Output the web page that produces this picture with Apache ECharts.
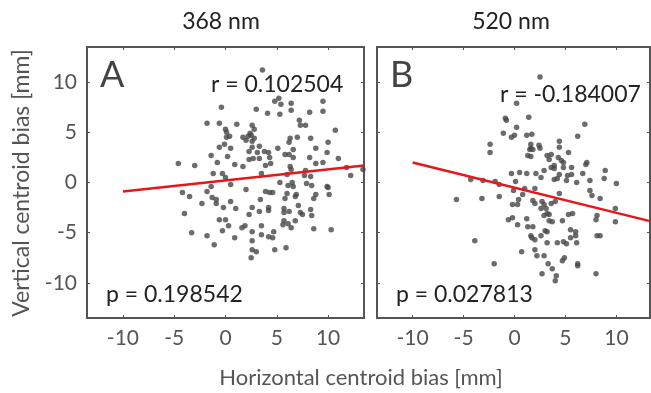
<!DOCTYPE html>
<html>
<head>
<meta charset="utf-8">
<script src="https://cdn.jsdelivr.net/npm/echarts@6/dist/echarts.min.js"></script>
<style>html,body{margin:0;padding:0;background:#fff}#c{width:651px;height:393px}</style>
</head>
<body>
<div id="c"></div>
<script>
const panelTitles = ['368 nm', '520 nm'];
const panelLetters = ['A', 'B'];
const rTexts = ['r = 0.102504', 'r = -0.184007'];
const pTexts = ['p = 0.198542', 'p = 0.027813'];
const tickValues = [-10, -5, 0, 5, 10];
const xTitle = 'Horizontal centroid bias [mm]';
const yTitle = 'Vertical centroid bias [mm]';

const pointsA = [
 [3.6,11.2],[4.8,8.1],[5.2,8.4],[5.4,7.8],[6.4,7.9],[9.5,8.1],
 [-0.4,7.5],[3.0,7.3],[4.1,6.9],[5.3,6.8],[6.4,7.2],[8.2,7.0],[9.5,7.1],
 [-1.8,5.9],[-0.6,5.9],[1.1,5.8],[2.6,5.7],[7.2,6.2],[7.3,5.7],[7.8,5.7],
 [0.0,5.3],[0.1,5.0],[2.8,5.3],[2.4,4.9],[10.7,5.2],
 [0.1,4.5],[0.4,4.6],[1.7,4.5],[2.2,4.6],[2.5,4.7],[2.8,4.4],[6.3,4.4],[7.0,4.5],[8.3,4.4],
 [2.0,4.2],[2.6,4.1],[6.2,4.0],[10.0,4.0],
 [-0.1,3.8],[-0.6,3.5],[0.5,3.4],[2.6,3.5],[3.3,3.6],[3.8,3.1],[5.1,3.4],[6.6,3.3],[8.8,3.4],
 [2.3,3.1],[3.1,3.0],[4.2,3.0],[6.2,2.8],[9.9,3.0],
 [-1.4,2.7],[0.2,2.6],[2.3,2.3],[2.7,2.4],[3.3,2.4],[4.3,2.5],[5.8,2.8],[6.6,2.5],[8.2,2.5],[11.0,2.4],
 [-4.6,1.9],[-3.0,1.7],[-0.8,2.0],[0.9,1.8],[1.7,1.6],[3.9,1.7],[4.4,1.9],[6.3,1.6],[8.8,1.9],[9.5,2.0],
 [6.4,1.3],[7.8,1.2],[11.8,1.5],[12.2,0.7],[13.4,1.3],
 [-1.2,0.9],[-0.3,0.9],[0.0,0.5],[3.5,0.9],[6.0,0.8],[8.3,0.6],[7.7,0.7],
 [0.5,-0.2],[-1.4,-0.4],[5.3,0.0],[6.5,0.0],[6.1,-0.3],[6.6,-0.4],[7.9,-0.1],[8.4,-0.3],[9.9,-0.4],[10.0,-0.5],
 [-4.2,-1.0],[-1.8,-0.9],[2.0,-0.7],[3.9,-0.9],[4.3,-1.0],[4.6,-1.0],[6.0,-1.1],[6.9,-1.2],[6.8,-1.4],[8.8,-1.2],[10.1,-1.2],
 [-3.5,-1.4],[-1.3,-1.5],[-0.9,-1.7],[3.4,-1.7],[0.5,-1.9],[5.8,-1.6],[8.6,-1.6],
 [-2.3,-2.1],[-0.9,-2.1],[-0.2,-2.5],[7.1,-2.3],
 [-4.0,-3.1],[1.0,-2.6],[2.6,-2.5],[3.3,-2.9],[4.2,-2.5],[4.2,-2.8],[5.7,-2.6],[5.7,-3.0],[6.2,-2.9],[7.3,-3.0],[7.5,-3.2],[8.3,-2.7],[8.4,-3.3],
 [-0.6,-3.7],[0.0,-3.7],[2.3,-3.2],[5.7,-3.8],[6.8,-3.8],[6.1,-4.1],
 [0.3,-4.3],[1.6,-4.5],[1.9,-4.3],[3.5,-4.3],[5.6,-4.2],[6.4,-4.5],[8.6,-4.6],[10.3,-4.7],
 [-3.3,-5.0],[-1.8,-5.3],[-0.3,-4.8],[0.9,-5.5],[2.6,-4.9],[3.5,-5.2],[4.7,-4.9],[4.2,-5.4],[4.6,-5.5],
 [-1.1,-6.2],[2.6,-5.8],[4.8,-6.7],[5.9,-6.5],[2.6,-6.7],[3.0,-6.9],[2.5,-7.5]
];

const pointsB = [
 [2.5,10.5],[0.2,7.9],[-0.9,6.4],[-0.8,6.2],[1.4,6.5],[0.2,5.5],[6.9,5.8],
 [-1.1,4.9],[0.0,4.7],[-0.3,4.5],[1.2,4.7],[1.7,4.8],[6.2,4.6],
 [-2.4,3.8],[-2.4,3.0],[1.6,3.8],[2.4,3.7],[1.6,3.4],[1.5,3.3],[1.8,3.3],[2.5,3.4],[4.4,4.1],[4.4,3.5],[5.3,3.0],
 [1.3,2.7],[1.6,2.6],[3.2,2.7],[3.6,2.8],[3.4,2.3],[4.3,2.5],[4.6,2.2],[4.8,2.0],[7.1,2.0],[7.0,1.8],
 [3.6,1.5],[3.9,1.7],[3.9,1.4],[4.8,1.5],[5.6,1.5],[8.9,1.2],
 [-0.3,0.9],[0.5,1.0],[1.2,0.9],[2.1,0.9],[2.9,1.2],[4.4,0.8],[5.2,0.7],[5.6,0.8],[6.7,0.9],
 [2.6,0.5],[3.9,0.3],[4.2,0.4],[5.1,0.2],[6.1,0.0],[7.4,0.2],[8.8,0.4],[10.0,-0.1],
 [-4.3,0.3],[-3.1,0.2],[-1.9,0.1],[-1.5,-0.2],[0.1,0.1],
 [-0.1,-0.8],[1.0,-0.6],[2.0,-0.6],[0.8,-1.2],[4.4,-1.1],[7.4,-0.8],[7.6,-1.3],[8.4,-1.6],
 [-5.7,-1.7],[-3.2,-1.6],[-1.5,-1.4],[0.4,-1.7],[-0.2,-2.2],[0.3,-2.2],[1.8,-1.8],[2.0,-2.1],[2.7,-1.9],[2.9,-2.2],[3.6,-2.1],[4.0,-1.9],
 [2.6,-2.6],[3.1,-2.6],[3.2,-3.1],[3.4,-3.2],[2.9,-3.3],[5.3,-3.2],[5.7,-3.1],[8.1,-3.3],[9.9,-2.6],[9.9,-3.9],
 [-0.6,-3.7],[-0.2,-3.5],[0.3,-4.2],[1.2,-3.6],[3.4,-3.8],[3.7,-3.9],[4.7,-3.8],[8.0,-3.7],
 [1.3,-4.4],[1.8,-4.4],[3.0,-4.8],[3.2,-4.9],[5.5,-4.7],[6.0,-4.9],[6.0,-5.3],
 [-3.9,-5.8],[1.6,-5.3],[1.7,-5.5],[2.0,-5.7],[2.6,-5.3],[3.2,-6.0],[4.2,-6.0],[4.8,-5.9],[5.1,-6.1],[5.5,-5.5],[6.1,-6.0],[8.1,-5.3],[8.4,-5.3],
 [0.7,-6.9],[2.0,-6.7],[2.2,-7.3],[2.9,-7.3],[4.9,-7.5],[4.7,-7.8],[6.2,-8.1],[6.2,-8.3],
 [-2.0,-8.1],[3.3,-8.1],[3.7,-8.6],[2.7,-9.1],[4.1,-9.3],[4.0,-9.8],[8.0,-9.1]
];

const fitA = [[-10, -0.9], [13.5, 1.7]];
const fitB = [[-10, 2.0], [13.3, -3.85]];

const FONT = 'Lato';
const axisColor = '#555';
const labelColor = '#555';

function xAx(gi, pos, show, max) {
  return {
    type: 'value', gridIndex: gi, position: pos, min: -13.5, max: max,
    splitLine: {show: false},
    axisLine: {show: true, onZero: false, lineStyle: {color: axisColor, width: 2}},
    axisTick: {show: true, inside: true, length: 3, customValues: tickValues, lineStyle: {color: axisColor, width: 1}},
    axisLabel: {show: show, customValues: tickValues, color: labelColor, fontFamily: FONT, fontSize: 21, margin: 10}
  };
}
function yAx(gi, pos, show) {
  return {
    type: 'value', gridIndex: gi, position: pos, min: -13.5, max: 13.5,
    splitLine: {show: false},
    axisLine: {show: true, onZero: false, lineStyle: {color: axisColor, width: 2}},
    axisTick: {show: true, inside: true, length: 3, customValues: tickValues, lineStyle: {color: axisColor, width: 1}},
    axisLabel: {show: show, customValues: tickValues, color: labelColor, fontFamily: FONT, fontSize: 21, margin: 10}
  };
}

const chart = echarts.init(document.getElementById('c'), null, {renderer: 'canvas'});
const txt = (x, y, s, size, color, align) => ({
  type: 'text', x: x, y: y, silent: true,
  style: {text: s, fontFamily: FONT, fontSize: size, fill: color, align: align || 'left', verticalAlign: 'middle'}
});

chart.setOption({
  animation: false,
  backgroundColor: '#fff',
  grid: [
    {left: 87, top: 47, width: 277, height: 271},
    {left: 377, top: 47, width: 273, height: 271}
  ],
  xAxis: [xAx(0, 'bottom', true, 13.5), xAx(0, 'top', false, 13.5), xAx(1, 'bottom', true, 13.3), xAx(1, 'top', false, 13.3)],
  yAxis: [yAx(0, 'left', true), yAx(0, 'right', false), yAx(1, 'left', false), yAx(1, 'right', false)],
  series: [
    {type: 'scatter', xAxisIndex: 0, yAxisIndex: 0, data: pointsA, symbolSize: 5.5, itemStyle: {color: '#474747'}},
    {type: 'line', xAxisIndex: 0, yAxisIndex: 0, data: fitA, symbol: 'none', lineStyle: {color: '#e8161b', width: 2.5}},
    {type: 'scatter', xAxisIndex: 2, yAxisIndex: 2, data: pointsB, symbolSize: 5.5, itemStyle: {color: '#474747'}},
    {type: 'line', xAxisIndex: 2, yAxisIndex: 2, data: fitB, symbol: 'none', lineStyle: {color: '#e8161b', width: 2.5}}
  ],
  graphic: [
    txt(221, 22, panelTitles[0], 23, '#222', 'center'),
    txt(511, 22, panelTitles[1], 23, '#222', 'center'),
    txt(100, 75, panelLetters[0], 36, '#444'),
    txt(390, 75, panelLetters[1], 36, '#444'),
    txt(211, 85, rTexts[0], 23, '#222'),
    txt(500, 95, rTexts[1], 23, '#222'),
    txt(106, 295, pTexts[0], 23, '#222'),
    txt(396, 295, pTexts[1], 23, '#222'),
    txt(361, 378, xTitle, 22, labelColor, 'center'),
    {type: 'text', x: 22, y: 183, rotation: Math.PI / 2, silent: true,
     style: {text: yTitle, fontFamily: FONT, fontSize: 23, fill: labelColor, align: 'center', verticalAlign: 'middle'}}
  ]
});
</script>
</body>
</html>
